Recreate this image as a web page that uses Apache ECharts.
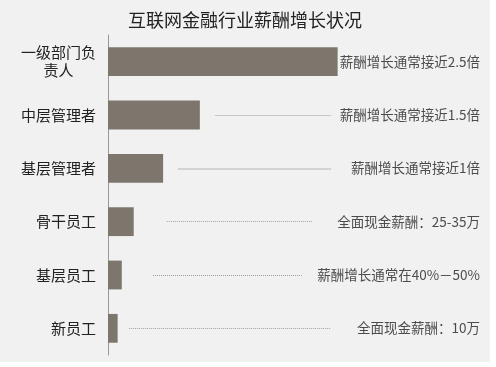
<!DOCTYPE html>
<html lang="zh">
<head>
    <meta charset="UTF-8">
    <title>互联网金融行业薪酬增长状况</title>
    <script src="https://cdn.jsdelivr.net/npm/echarts@6/dist/echarts.min.js"></script>
    <style>
        body { margin: 0; background: #fff; }
        #main { width: 490px; height: 362px; }
    </style>
</head>
<body>
<div id="main"></div>
<script>
    // 类目（从上到下）
    var categories = ['一级部门负\n责人', '中层管理者', '基层管理者', '骨干员工', '基层员工', '新员工'];
    // 相对薪酬水平（按图中条长估算）
    var values = [2.5, 1.0, 0.6, 0.28, 0.15, 0.105];
    // 说明文字
    var notes = ['薪酬增长通常接近2.5倍', '薪酬增长通常接近1.5倍', '薪酬增长通常接近1倍',
        '全面现金薪酬：25-35万', '薪酬增长通常在40%－50%', '全面现金薪酬：10万'];
    // 虚线起止（同一数值刻度）
    var leaderStart = [null, 1.17, 0.76, 0.64, 0.49, 0.23];
    var leaderEnd = [null, 2.43, 2.43, 2.23, 2.11, 2.43];

    var xMax = 4.05;
    var chart = echarts.init(document.getElementById('main'));

    var leaders = [];
    for (var i = 0; i < categories.length; i++) {
        if (leaderStart[i] == null) continue;
        var from = { xAxis: leaderStart[i], yAxis: categories[i] };
        // 第三行是浅色实线
        if (i === 2) from.lineStyle = { type: 'solid', color: '#c8c8c8', width: 1.5 };
        leaders.push([from, { xAxis: leaderEnd[i], yAxis: categories[i] }]);
    }

    chart.setOption({
        backgroundColor: '#f1f1f1',
        animation: false,
        title: {
            text: '互联网金融行业薪酬增长状况',
            left: 'center',
            top: 6,
            textStyle: { fontSize: 18, fontWeight: 'normal', color: '#222', fontFamily: 'Noto Sans CJK SC' }
        },
        grid: { left: 108, right: 10, top: 35, bottom: 7, containLabel: false },
        xAxis: { type: 'value', min: 0, max: xMax, show: false },
        yAxis: {
            type: 'category',
            inverse: true,
            data: categories,
            axisLine: { lineStyle: { color: '#999' } },
            axisTick: { length: 4, lineStyle: { color: '#999' } },
            axisLabel: {
                margin: 12,
                color: '#222',
                fontSize: 15,
                fontFamily: 'Noto Sans CJK SC',
                formatter: function (v) {
                    return v.indexOf('\n') >= 0 ? '{c|' + v + '}' : v;
                },
                rich: { c: { align: 'center', fontSize: 15, lineHeight: 18, color: '#222' } }
            }
        },
        series: [
            {
                type: 'bar',
                data: values,
                barWidth: '54%',
                itemStyle: { color: '#7d766c' },
                markLine: {
                    silent: true,
                    symbol: 'none',
                    label: { show: false },
                    lineStyle: { type: 'dotted', color: '#a0a0a0', width: 1 },
                    data: leaders
                }
            },
            {
                type: 'scatter',
                symbolSize: 0,
                data: notes.map(function (n, i) { return [xMax, categories[i], n]; }),
                encode: { x: 0, y: 1 },
                label: {
                    show: true,
                    position: 'left',
                    distance: 0,
                    fontSize: 13.5,
                    color: '#222',
                    fontFamily: 'Noto Sans CJK SC',
                    formatter: function (p) { return p.data[2]; }
                }
            }
        ]
    });
</script>
</body>
</html>
